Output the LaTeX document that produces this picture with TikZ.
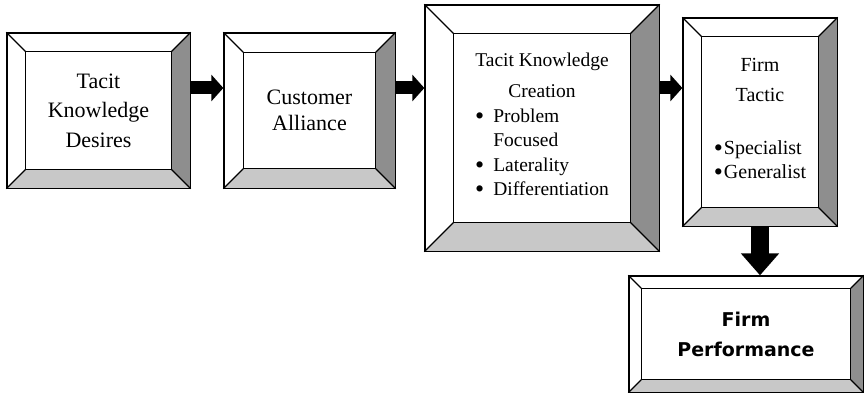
\documentclass[tikz,border=0pt]{standalone}
\usepackage{fontspec}
\setmainfont{Liberation Serif}
\newfontfamily\heavyfont{DejaVu Sans}
\usetikzlibrary{positioning}
\usetikzlibrary{calc}
\usetikzlibrary{arrows.meta}
\definecolor{rimdark}{RGB}{142,142,142}
\definecolor{rimlight}{RGB}{200,200,200}

\newcommand{\dotmark}{\raisebox{-2pt}{\fontsize{26}{24}\selectfont\textbullet}}

% raised frame: dark right rim, light bottom rim, inner panel
\newcommand{\bevelframe}[2]{%
  \coordinate (#1-a) at ($(#1.north west)+(#2,#2)$);
  \coordinate (#1-b) at ($(#1.north east)+(-#2,#2)$);
  \coordinate (#1-c) at ($(#1.south east)+(-#2,-#2)$);
  \coordinate (#1-d) at ($(#1.south west)+(#2,-#2)$);
  \fill[rimdark] (#1.north east) -- (#1-b) -- (#1-c) -- (#1.south east) -- cycle;
  \fill[rimlight] (#1.south west) -- (#1-d) -- (#1-c) -- (#1.south east) -- cycle;
  \draw[line width=1.1pt] (#1-a) rectangle (#1-c);
  \draw[line width=1.1pt] (#1.north west) -- (#1-a) (#1.north east) -- (#1-b)
    (#1.south east) -- (#1-c) (#1.south west) -- (#1-d);
  \draw[line width=1.3pt] (#1.north west) rectangle (#1.south east);
}

\begin{document}
\begin{tikzpicture}[x=1pt, y=-1pt,
    frame/.style={draw, line width=1.3pt, inner sep=0pt, align=center},
    flow/.style={line width=13pt, -{Triangle[length=12pt, width=26pt]}},
    drop/.style={line width=18pt, -{Triangle[length=22pt, width=37pt]}},
]
    \useasboundingbox (0,0) rectangle (864,393);

    \node[frame, minimum width=183pt, minimum height=155pt,
          font=\fontsize{22}{29.5}\selectfont] (desires) at (98.5,110.5)
          {Tacit\\Knowledge\\Desires};
    \node[frame, minimum width=171pt, minimum height=155pt,
          font=\fontsize{22}{26}\selectfont] (alliance) at (309.5,110.5)
          {Customer\\Alliance};
    \node[frame, minimum width=234pt, minimum height=246pt,
          font=\fontsize{19.5}{24.5}\selectfont] (creation) at (542,128)
          {Tacit Knowledge\\[7pt]Creation\\
           \begin{tabular}[t]{@{}l@{\hspace{9pt}}l@{}}
             \dotmark & Problem\\
                      & Focused\\
             \dotmark & Laterality\\
             \dotmark & Differentiation
           \end{tabular}};
    \node[frame, minimum width=154pt, minimum height=208pt,
          font=\fontsize{20}{24}\selectfont] (tactic) at (760,122)
          {Firm\\[6pt]Tactic\\[29pt]
           \begin{tabular}[t]{@{}l@{\hspace{1pt}}l@{}}
             \dotmark & Specialist\\
             \dotmark & Generalist
           \end{tabular}};
    \node[frame, minimum width=234pt, minimum height=116pt,
          font=\heavyfont\bfseries\fontsize{19}{30}\selectfont] (performance) at (746,334)
          {Firm\\Performance};

    \bevelframe{desires}{19.5}
    \bevelframe{alliance}{20}
    \bevelframe{creation}{29.5}
    \bevelframe{tactic}{19.5}
    \bevelframe{performance}{13}

    \coordinate (row) at (0,88);
    \draw[flow] (desires.east |- row) -- (alliance.west |- row);
    \draw[flow] (alliance.east |- row) -- (creation.west |- row);
    \draw[flow] (creation.east |- row) -- (tactic.west |- row);
    \draw[drop] (tactic.south) -- (tactic.south |- performance.north);
\end{tikzpicture}
\end{document}
